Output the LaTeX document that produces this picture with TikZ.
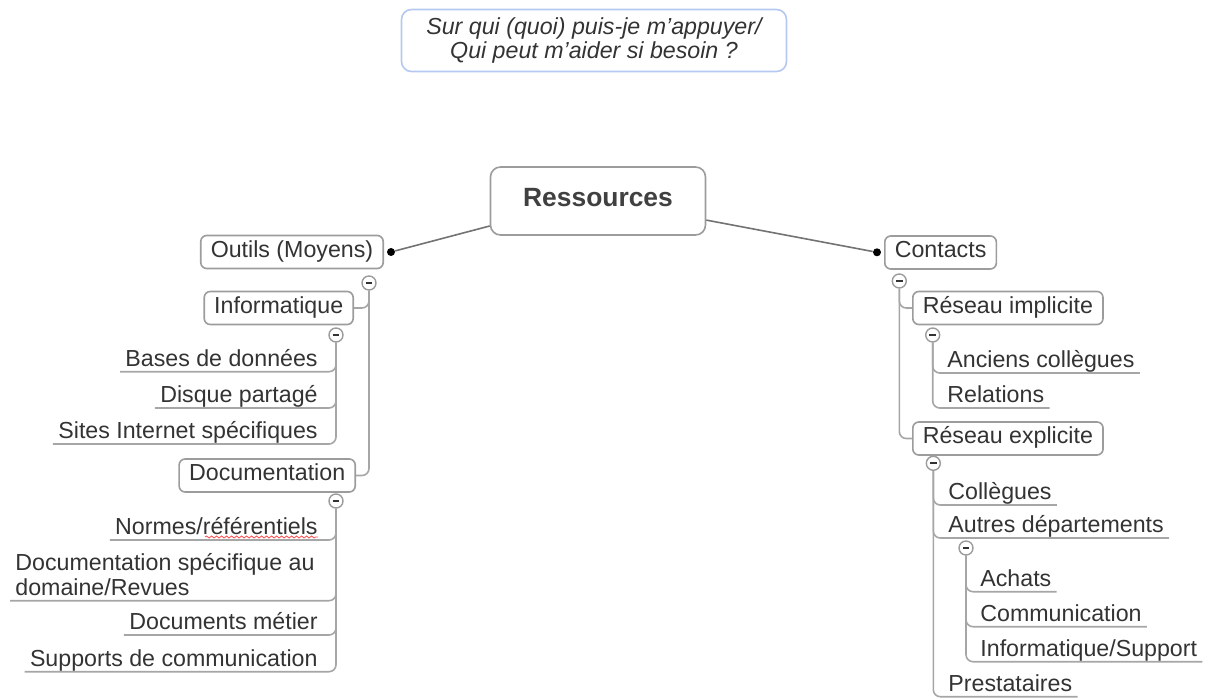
\documentclass[tikz,border=0pt]{standalone}
\usepackage{fontspec}
\setmainfont{Liberation Sans}
\usetikzlibrary{decorations.pathmorphing}
\definecolor{txtgray}{HTML}{333333}
\definecolor{boxgray}{HTML}{9C9C9C}
\definecolor{linegray}{HTML}{A6A6A6}
\definecolor{noteblue}{HTML}{B5C8F2}
\begin{document}
\begin{tikzpicture}[x=0.5pt,y=-0.5pt,
    every node/.style={font=\fontsize{11.6}{12.6}\selectfont, text=txtgray},
    box/.style={draw=boxgray, line width=0.8pt, rounded corners=3pt, fill=white,
        inner xsep=5pt, minimum height=16.5pt, text height=0.72em, text depth=0.2em},
    leaf/.style={inner xsep=2.5pt, inner ysep=0.5pt, text height=0.72em, text depth=0.2em},
    minus/.style={circle, draw=boxgray, fill=white, line width=0.7pt, minimum size=7pt,
        inner sep=0pt, path picture={\draw[txtgray, line width=0.9pt]
        ([xshift=-1.7pt]path picture bounding box.center) --
        ([xshift=1.7pt]path picture bounding box.center);}},
    dot/.style={circle, fill=black, minimum size=4pt, inner sep=0pt},
    branch/.style={draw=linegray, line width=0.8pt, rounded corners=3.5pt},
    main/.style={draw=black!55, line width=0.8pt}
]
    \useasboundingbox (0,0) rectangle (1210,700);

    % question
    \node[draw=noteblue, line width=0.8pt, rounded corners=5pt, minimum width=192.5pt,
        minimum height=31pt, align=center,
        font=\fontsize{11.6}{12.4}\selectfont\itshape] (note) at (594,40.5)
        {Sur qui (quoi) puis-je m'appuyer/\\Qui peut m'aider si besoin ?};

    % centre
    \node[box, minimum width=107.5pt, minimum height=34pt, rounded corners=5pt,
        font=\fontsize{13.2}{15}\selectfont\bfseries, text=black!75] (res) at (598,201) {Ressources};

    % left branch
    \node[box, anchor=east] (outils) at (384,252) {Outils (Moyens)};
    \node[dot] (dotO) at (391,252) {};
    \node[minus] (mO) at (369,283) {};
    \node[box, anchor=east] (info) at (354,308) {Informatique};
    \node[minus] (mI) at (336,335) {};
    \node[leaf, anchor=south east] (bases) at (323,371.7) {Bases de données};
    \node[leaf, anchor=south east] (disque) at (323,408) {Disque partagé};
    \node[leaf, anchor=south east] (sites) at (323,444) {Sites Internet spécifiques};
    \node[box, anchor=east] (doc) at (356,475.5) {Documentation};
    \node[minus] (mD) at (336,501) {};
    \node[leaf, anchor=south east] (normes) at (323,540) {Normes/référentiels};
    \node[leaf, anchor=south west, align=left] (docspec) at (10,600.7)
        {Documentation spécifique au\\domaine/Revues};
    \node[leaf, anchor=south east] (metier) at (323,635) {Documents métier};
    \node[leaf, anchor=south east] (supports) at (323,671.7) {Supports de communication};

    % right branch
    \node[box, anchor=west] (contacts) at (884,252.5) {Contacts};
    \node[dot] (dotC) at (877,252.3) {};
    \node[minus] (mC) at (899.3,281) {};
    \node[box, anchor=west] (resimp) at (912,308) {Réseau implicite};
    \node[minus] (mRI) at (932.7,335) {};
    \node[leaf, anchor=south west] (anciens) at (942,373) {Anciens collègues};
    \node[leaf, anchor=south west] (relations) at (942,408) {Relations};
    \node[box, anchor=west] (resexp) at (912,438.5) {Réseau explicite};
    \node[minus] (mRE) at (933.3,463.3) {};
    \node[leaf, anchor=south west] (collegues) at (943,505) {Collègues};
    \node[leaf, anchor=south west] (autres) at (943,538) {Autres départements};
    \node[minus] (mA) at (966,548) {};
    \node[leaf, anchor=south west] (achats) at (975,591.7) {Achats};
    \node[leaf, anchor=south west] (comm) at (975,626.7) {Communication};
    \node[leaf, anchor=south west] (infosup) at (975,661.7) {Informatique/Support};
    \node[leaf, anchor=south west] (presta) at (943,696.7) {Prestataires};

    % links
    \draw[main] (res.193) -- (dotO);
    \draw[main] (res.350) -- (dotC);

    \draw[branch] (mO.south) |- (info.east);
    \draw[branch] (mO.south) |- (doc.east);
    \foreach \n in {bases,disque,sites}
        \draw[branch] (mI.south) |- (\n.south west);
    \foreach \n in {normes,docspec,metier,supports}
        \draw[branch] (mD.south) |- (\n.south west);

    \draw[branch] (mC.south) |- (resimp.west);
    \draw[branch] (mC.south) |- (resexp.west);
    \foreach \n in {anciens,relations}
        \draw[branch] (mRI.south) |- (\n.south east);
    \foreach \n in {collegues,autres,presta}
        \draw[branch] (mRE.south) |- (\n.south east);
    \foreach \n in {achats,comm,infosup}
        \draw[branch] (mA.south) |- (\n.south east);

    % spell check mark
    \draw[red!70, line width=0.4pt, decorate,
        decoration={snake, amplitude=0.5pt, segment length=2.5pt}]
        (205,537) -- (318,537);
\end{tikzpicture}
\end{document}
